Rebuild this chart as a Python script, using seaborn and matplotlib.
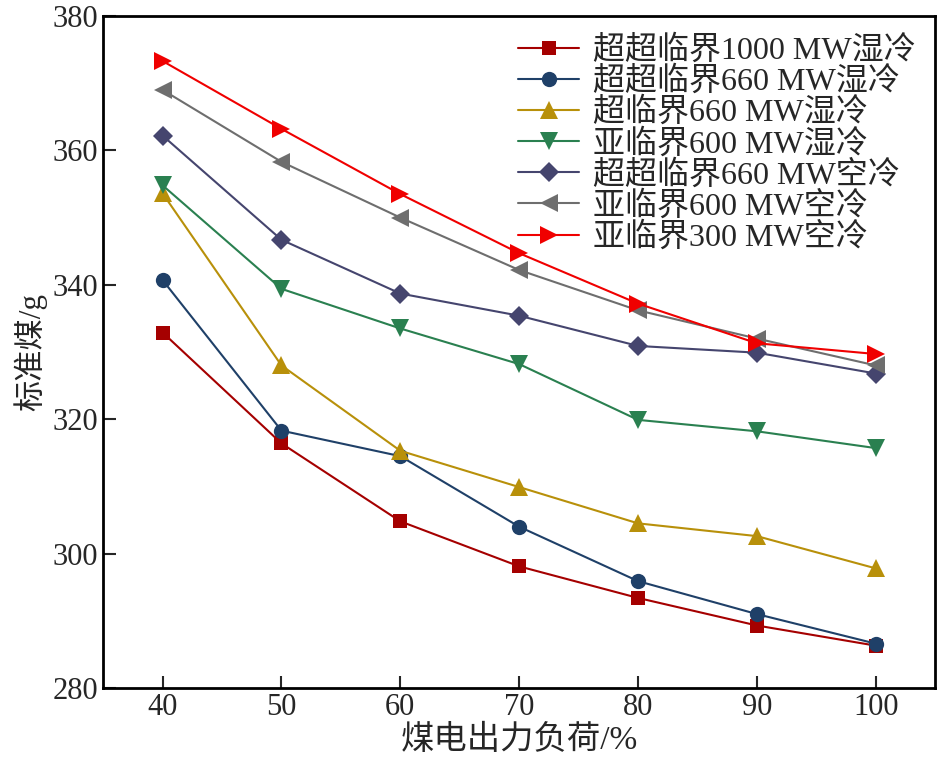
import pandas as pd
import matplotlib
matplotlib.use("Agg")
import matplotlib.pyplot as plt
import seaborn as sns

# Data
load = [40, 50, 60, 70, 80, 90, 100]
names = ['超超临界1000 MW湿冷', '超超临界660 MW湿冷', '超临界660 MW湿冷',
         '亚临界600 MW湿冷', '超超临界660 MW空冷', '亚临界600 MW空冷',
         '亚临界300 MW空冷']
usc1000_wet = [332.9, 316.4, 304.8, 298.1, 293.4, 289.3, 286.3]
usc660_wet = [340.7, 318.3, 314.5, 304.0, 295.9, 291.0, 286.6]
sc660_wet = [353.6, 328.0, 315.3, 309.9, 304.5, 302.6, 297.8]
sub600_wet = [354.8, 339.4, 333.5, 328.2, 319.9, 318.2, 315.7]
usc660_air = [362.2, 346.7, 338.7, 335.4, 330.9, 329.9, 326.8]
sub600_air = [369.0, 358.3, 350.0, 342.2, 336.2, 332.0, 328.0]
sub300_air = [373.3, 363.2, 353.5, 344.7, 337.2, 331.3, 329.7]

series = [usc1000_wet, usc660_wet, sc660_wet, sub600_wet,
          usc660_air, sub600_air, sub300_air]
colors = ['#a50000', '#1f4068', '#b8900a', '#2a8050', '#45456e', '#6e6e6e', '#f00000']
marker_list = ['s', 'o', '^', 'v', 'D', '<', '>']
sizes = [10, 11, 13, 13, 10, 13, 13]

rows = []
for name, vals in zip(names, series):
    for x, y in zip(load, vals):
        rows.append({'load': x, 'coal': y, 'unit': name})
df = pd.DataFrame(rows)

sns.set_style("ticks")
plt.rcParams['font.family'] = ['Liberation Serif', 'Noto Sans CJK SC']
plt.rcParams['axes.unicode_minus'] = False

fig = plt.figure(figsize=(9.38, 7.7), dpi=100)
ax = fig.add_axes([0.11, 0.1065, 0.887, 0.8727])

for i, name in enumerate(names):
    sns.lineplot(data=df[df['unit'] == name], x='load', y='coal', ax=ax,
                 color=colors[i], marker=marker_list[i], markersize=sizes[i],
                 markeredgewidth=0, linewidth=1.5, label=name)

ax.set_xlim(35, 105)
ax.set_ylim(280, 380)
ax.set_xticks(load)
ax.set_yticks([280, 300, 320, 340, 360, 380])
ax.set_xlabel('煤电出力负荷/%', fontsize=24, labelpad=2)
ax.set_ylabel('标准煤/g', fontsize=22.5, labelpad=4)
ax.tick_params(direction='in', length=9, width=1.5, labelsize=22)
for s in ax.spines.values():
    s.set_linewidth(2)
    s.set_color('black')

ax.legend(loc='upper right', frameon=False, fontsize=23, handlelength=1.9,
          labelspacing=0.02, handletextpad=0.45, borderaxespad=0.2,
          bbox_to_anchor=(1.0, 1.0))

fig.savefig('out.png', dpi=100)
